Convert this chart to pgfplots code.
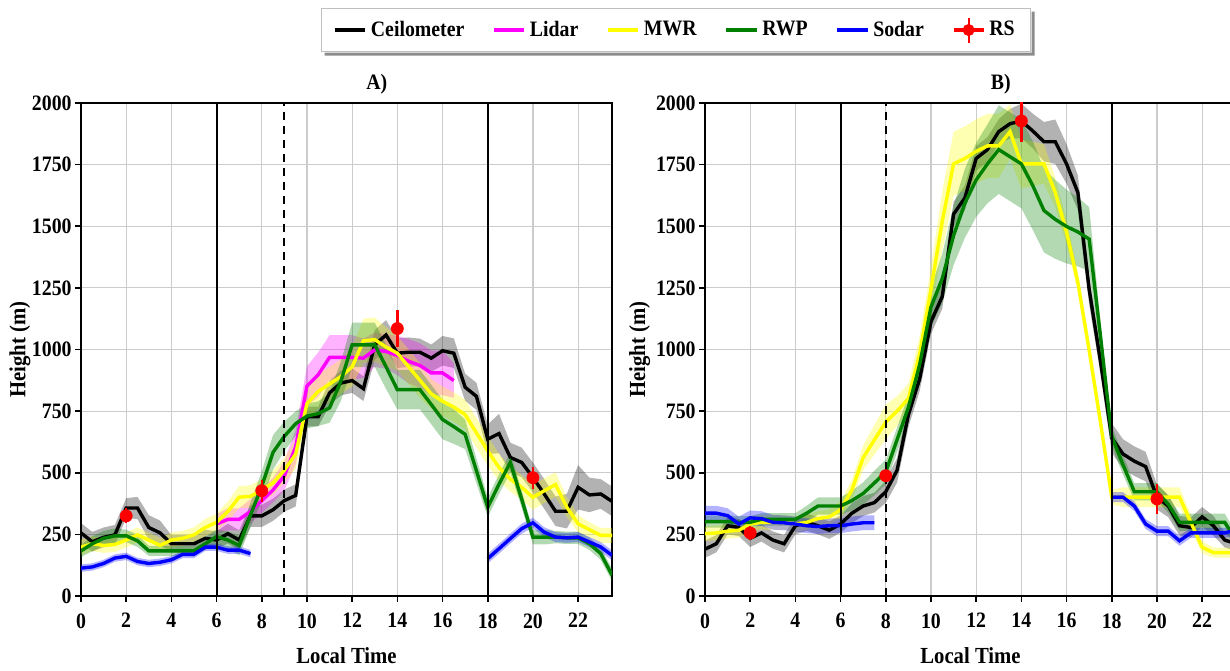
\documentclass[border=0pt]{standalone}
\usepackage{fontspec}
\setmainfont[FakeStretch=0.9]{Liberation Serif}
\usepackage{pgfplots}
\pgfplotsset{compat=1.18}
\usepackage{pgfplotstable}
\usepgfplotslibrary{fillbetween}

\definecolor{cmag}{RGB}{255,0,255}
\definecolor{cyel}{RGB}{255,255,0}
\definecolor{cgrn}{RGB}{0,128,0}
\definecolor{cblu}{RGB}{0,0,255}

% ---------------- Panel A ----------------
\pgfplotstableread{
t y e
0 256 40
0.5 220 40
1 238 40
1.5 248 40
2 357 40
2.5 357 45
3 278 50
3.5 256 50
4 212 35
4.5 212 35
5 212 35
5.5 234 35
6 227 35
6.5 253 40
7 227 40
7.5 325 45
8 325 45
8.5 350 45
9 387 45
9.5 408 45
10 728 40
10.5 728 40
11 824 50
11.5 864 50
12 874 50
12.5 841 50
13 1019 60
13.5 1059 60
14 985 60
14.5 989 60
15 989 55
15.5 965 55
16 995 60
16.5 985 60
17 847 55
17.5 810 55
18 636 60
18.5 659 80
19 562 60
19.5 542 60
20 481 60
20.5 414 60
21 344 60
21.5 344 70
22 441 90
22.5 410 70
23 414 60
23.5 384 60
}\ceilA

\pgfplotstableread{
t y e
6 292 40
6.5 311 45
7 311 45
7.5 343 50
8 387 50
8.5 430 50
9 488 60
9.5 605 70
10 852 80
10.5 898 90
11 968 90
11.5 968 90
12 968 90
12.5 965 80
13 999 70
13.5 992 70
14 976 80
14.5 952 90
15 935 90
15.5 905 90
16 905 90
16.5 874 70
}\lidA

\pgfplotstableread{
t y e
0 198 30
0.5 212 30
1 205 30
1.5 209 30
2 227 30
2.5 248 30
3 227 30
3.5 205 30
4 227 30
4.5 234 30
5 248 30
5.5 278 35
6 299 35
6.5 343 40
7 401 45
7.5 404 45
8 430 45
8.5 459 50
9 510 50
9.5 576 60
10 780 70
10.5 830 70
11 860 70
11.5 890 70
12 930 80
12.5 1035 90
13 1040 90
13.5 1010 80
14 985 70
14.5 930 70
15 875 70
15.5 820 60
16 790 60
16.5 766 60
17 736 60
17.5 662 60
18 589 60
18.5 521 55
19 474 50
19.5 441 50
20 400 50
20.5 427 50
21 452 50
21.5 360 40
22 293 35
22.5 269 30
23 246 30
23.5 246 30
}\mwrA

\pgfplotstableread{
t y e
0 183 25
0.5 212 30
1 234 30
1.5 244 30
2 244 25
2.5 224 25
3 183 20
3.5 183 20
4 183 20
4.5 183 20
5 183 20
5.5 212 25
6 241 30
6.5 227 35
7 205 40
7.5 328 50
8 445 60
8.5 583 70
9 648 60
9.5 699 50
10 730 50
10.5 740 50
11 763 60
11.5 871 80
12 1019 90
12.5 1019 90
13 1019 90
13.5 930 90
14 837 80
14.5 837 80
15 837 80
15.5 777 80
16 716 80
16.5 687 70
17 656 60
17.5 508 50
18 360 40
18.5 454 40
19 542 40
19.5 394 35
20 239 30
20.5 239 30
21 239 25
21.5 236 25
22 236 25
22.5 212 25
23 172 25
23.5 85 25
}\rwpA

\pgfplotstableread{
t y e
0 113 15
0.5 118 15
1 132 15
1.5 154 15
2 161 15
2.5 140 15
3 132 15
3.5 137 15
4 147 15
4.5 169 15
5 169 15
5.5 198 15
6 198 15
6.5 186 15
7 186 15
7.5 172 15
}\sodAa

\pgfplotstableread{
t y e
18 152 20
18.5 192 20
19 233 20
19.5 273 20
20 297 20
20.5 259 20
21 239 20
21.5 236 20
22 239 20
22.5 219 20
23 199 20
23.5 165 20
}\sodAb

% ---------------- Panel B ----------------
\pgfplotstableread{
t y e
0 190 35
0.5 212 35
1 285 35
1.5 278 35
2 234 35
2.5 256 35
3 227 35
3.5 212 35
4 285 35
4.5 299 35
5 285 35
5.5 267 35
6 292 35
6.5 336 40
7 365 40
7.5 379 40
8 423 45
8.5 510 50
9 735 50
9.5 881 50
10 1113 50
10.5 1215 50
11 1549 50
11.5 1615 50
12 1775 50
12.5 1811 50
13 1884 50
13.5 1916 60
14 1927 70
14.5 1887 70
15 1843 80
15.5 1843 90
16 1753 80
16.5 1637 70
17 1244 60
17.5 953 50
18 641 60
18.5 576 60
19 547 60
19.5 525 60
20 401 50
20.5 365 45
21 285 40
21.5 278 40
22 321 40
22.5 285 40
23 227 30
23.5 212 30
}\ceilB

\pgfplotstableread{
t y e
0 253 30
0.5 256 30
1 263 30
1.5 267 30
2 292 30
2.5 299 30
3 299 30
3.5 299 30
4 292 30
4.5 299 30
5 314 30
5.5 321 30
6 350 35
6.5 430 40
7 561 50
7.5 634 60
8 706 70
8.5 750 60
9 801 60
9.5 983 70
10 1244 90
10.5 1520 120
11 1753 130
11.5 1775 130
12 1804 130
12.5 1826 130
13 1826 130
13.5 1884 110
14 1753 100
14.5 1753 90
15 1753 80
15.5 1637 60
16 1477 50
16.5 1273 40
17 997 40
17.5 706 40
18 401 30
18.5 401 40
19 401 40
19.5 401 40
20 401 40
20.5 401 40
21 401 40
21.5 299 30
22 198 25
22.5 176 20
23 176 20
23.5 176 20
}\mwrB

\pgfplotstableread{
t y e
0 302 25
0.5 302 25
1 302 25
1.5 299 25
2 299 25
2.5 311 25
3 311 25
3.5 311 25
4 311 25
4.5 336 30
5 365 35
5.5 365 35
6 365 35
6.5 387 40
7 416 45
7.5 459 50
8 503 50
8.5 634 50
9 765 50
9.5 939 60
10 1172 80
10.5 1288 100
11 1462 120
11.5 1593 140
12 1688 150
12.5 1753 160
13 1811 180
13.5 1782 180
14 1753 180
14.5 1666 180
15 1564 170
15.5 1528 160
16 1499 150
16.5 1477 140
17 1448 130
17.5 1055 60
18 648 40
18.5 532 40
19 423 35
19.5 423 35
20 423 35
20.5 372 35
21 299 35
21.5 299 35
22 299 35
22.5 299 35
23 299 35
23.5 227 30
}\rwpB

\pgfplotstableread{
t y e
0 336 30
0.5 336 30
1 326 30
1.5 292 30
2 317 30
2.5 314 30
3 299 30
3.5 297 30
4 292 30
4.5 285 30
5 282 30
5.5 285 30
6 285 30
6.5 292 30
7 297 30
7.5 297 30
}\sodBa

\pgfplotstableread{
t y e
18 401 20
18.5 401 20
19 365 20
19.5 292 20
20 263 20
20.5 263 20
21 224 20
21.5 256 20
22 256 20
22.5 256 20
23 256 20
23.5 267 20
}\sodBb

\newcommand{\band}[3]{%
  \addplot[draw=none, name path=#3u, forget plot] table[x=t, y expr=\thisrow{y}+\thisrow{e}] {#1};
  \addplot[draw=none, name path=#3l, forget plot] table[x=t, y expr=\thisrow{y}-\thisrow{e}] {#1};
  \addplot[fill=#2, fill opacity=0.3, draw=none, forget plot] fill between[of=#3u and #3l];
}

\pgfplotsset{
  myax/.style={
    scale only axis, width=265.5pt, height=246.5pt,
    xmin=0, xmax=23.5, ymin=0, ymax=2000,
    xtick={0,2,...,22}, ytick={0,250,...,2000},
    grid=major, grid style={gray!40, line width=0.6pt},
    axis line style={line width=0.9pt},
    tick style={black, line width=0.8pt},
    tick align=outside, major tick length=3pt,
    xtick pos=left, ytick pos=left,
    ticklabel style={font=\fontsize{11}{13}\selectfont\bfseries, inner sep=1.5pt},
    xticklabel style={yshift=-4pt},
    /pgf/number format/assume math mode=true,
    /pgf/number format/1000 sep={},
    xlabel={Local Time}, ylabel={Height (m)},
    every axis x label/.style={at={(axis description cs:0.5,-0.12)}, anchor=center, font=\fontsize{11.5}{13}\selectfont\bfseries},
    title style={font=\fontsize{11}{13}\selectfont\bfseries, at={(axis description cs:0.557,1)}, anchor=center, yshift=3.5pt},
  },
  ln/.style={line width=1.7pt},
}

\begin{document}
\begin{tikzpicture}
\begin{axis}[myax, title={A)},
  every axis y label/.style={at={(axis description cs:-0.115,0.5)}, rotate=90, anchor=center, font=\fontsize{11.5}{13}\selectfont\bfseries},
  legend columns=6,
  legend style={at={(axis description cs:1.1205,1.148)}, anchor=center,
    font=\fontsize{11}{13}\selectfont\bfseries, draw=black!25,
    fill=white, inner xsep=6pt, inner ysep=4pt, name=leg,
    /tikz/every even column/.append style={column sep=12pt}},
  legend image code/.code={\draw[#1] (0cm,0cm) -- (0.53cm,0cm);},
]
\band{\ceilA}{black}{ca}
\addplot[black, ln] table[x=t, y=y] {\ceilA};
\addlegendentry{Ceilometer}
\band{\lidA}{cmag}{la}
\addplot[cmag, ln] table[x=t, y=y] {\lidA};
\addlegendentry{Lidar}
\band{\mwrA}{cyel}{ma}
\addplot[cyel, ln] table[x=t, y=y] {\mwrA};
\addlegendentry{MWR}
\band{\rwpA}{cgrn}{ra}
\addplot[cgrn, ln] table[x=t, y=y] {\rwpA};
\addlegendentry{RWP}
\band{\sodAa}{cblu}{sa}
\addplot[cblu, ln] table[x=t, y=y] {\sodAa};
\addlegendentry{Sodar}
\band{\sodAb}{cblu}{sb}
\addplot[cblu, ln, forget plot] table[x=t, y=y] {\sodAb};
\addplot[red, only marks, mark=*, mark size=3pt,
  error bars/.cd, y dir=both, y explicit, error mark=none,
  error bar style={red, line width=1.2pt},
  /pgfplots/legend image code/.code={\draw[red, line width=1.6pt] (0cm,0cm) -- (0.53cm,0cm);
     \draw[red, line width=1pt] (0.265cm,-0.22cm) -- (0.265cm,0.22cm);
     \fill[red] (0.265cm,0cm) circle[radius=2.8pt];}]
  coordinates {(2,325) +- (0,30) (8,427) +- (0,45) (14,1085) +- (0,75) (20,480) +- (0,45)};
\addlegendentry{RS}
\draw[black, line width=1pt] (axis cs:6,0) -- (axis cs:6,2000);
\draw[black, line width=1pt] (axis cs:18,0) -- (axis cs:18,2000);
\draw[black, line width=1pt, dash pattern=on 4pt off 3pt] (axis cs:9,0) -- (axis cs:9,2000);
\end{axis}
\fill[black!45] ([shift={(1.8pt,-1.8pt)}]leg.south west) -- ([shift={(1.8pt,-1.8pt)}]leg.south east)
  -- ([shift={(1.8pt,-1.8pt)}]leg.north east) -- ([shift={(0.3pt,-1.8pt)}]leg.north east)
  -- ([shift={(0.3pt,-0.3pt)}]leg.south east) -- ([shift={(1.8pt,-0.3pt)}]leg.south west) -- cycle;

\begin{axis}[myax, at={(312pt,0pt)}, title={B)},
  every axis y label/.style={at={(axis description cs:-0.123,0.5)}, rotate=90, anchor=center, font=\fontsize{11.5}{13}\selectfont\bfseries},
]
\band{\ceilB}{black}{cb}
\addplot[black, ln] table[x=t, y=y] {\ceilB};
\band{\mwrB}{cyel}{mb}
\addplot[cyel, ln] table[x=t, y=y] {\mwrB};
\band{\rwpB}{cgrn}{rb}
\addplot[cgrn, ln] table[x=t, y=y] {\rwpB};
\band{\sodBa}{cblu}{sc}
\addplot[cblu, ln] table[x=t, y=y] {\sodBa};
\band{\sodBb}{cblu}{sd}
\addplot[cblu, ln] table[x=t, y=y] {\sodBb};
\addplot[red, only marks, mark=*, mark size=3pt,
  error bars/.cd, y dir=both, y explicit, error mark=none,
  error bar style={red, line width=1.2pt}]
  coordinates {(2,256) +- (0,30) (8,488) +- (0,20) (14,1927) +- (0,85) (20,394) +- (0,60)};
\draw[black, line width=1pt] (axis cs:6,0) -- (axis cs:6,2000);
\draw[black, line width=1pt] (axis cs:18,0) -- (axis cs:18,2000);
\draw[black, line width=1pt, dash pattern=on 4pt off 3pt] (axis cs:8,0) -- (axis cs:8,2000);
\end{axis}
\pgfresetboundingbox
\path[use as bounding box] (-40.5pt,-37pt) rectangle (574.5pt,298pt);
\end{tikzpicture}
\end{document}
